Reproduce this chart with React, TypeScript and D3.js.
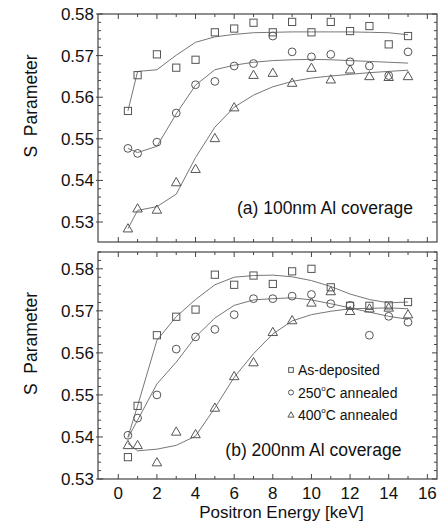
import React from 'react';
import * as d3 from 'd3';

// positron energies (keV)
const energies = [0.5, 1, 2, 3, 4, 5, 6, 7, 8, 9, 10, 11, 12, 13, 14, 15];

// (a) 100nm Al coverage
const aAsDep = [0.5567, 0.5653, 0.5703, 0.5671, 0.569, 0.5756, 0.5765, 0.5779, 0.5756, 0.5781, 0.5756, 0.5781, 0.5759, 0.5771, 0.5727, 0.5747];
const a250 = [0.5477, 0.5465, 0.5492, 0.5562, 0.563, 0.5638, 0.5675, 0.5681, 0.5747, 0.5709, 0.5697, 0.5703, 0.5685, 0.5675, 0.5652, 0.5709];
const a400 = [0.5284, 0.5332, 0.5329, 0.5395, 0.5427, 0.5501, 0.5575, 0.5653, 0.5658, 0.5634, 0.567, 0.5642, 0.5666, 0.565, 0.5648, 0.565];
const aAsDepFit = [0.5567, 0.5662, 0.5666, 0.5701, 0.5732, 0.5745, 0.5751, 0.5755, 0.5756, 0.5757, 0.5757, 0.5757, 0.5757, 0.5756, 0.5755, 0.575];
const a250Fit = [0.5477, 0.5467, 0.5482, 0.556, 0.5629, 0.5666, 0.5677, 0.5684, 0.5688, 0.569, 0.5691, 0.569, 0.5688, 0.5686, 0.5684, 0.5682];
const a400Fit = [0.5284, 0.5328, 0.5337, 0.5367, 0.5455, 0.5528, 0.5576, 0.5605, 0.5625, 0.5638, 0.5646, 0.5651, 0.5655, 0.5659, 0.5662, 0.5665];

// (b) 200nm Al coverage
const bAsDep = [0.5352, 0.5474, 0.5642, 0.5686, 0.5703, 0.5786, 0.5762, 0.5784, 0.5764, 0.5794, 0.58, 0.5756, 0.5712, 0.5712, 0.5713, 0.5721];
const b250 = [0.5404, 0.5445, 0.55, 0.5609, 0.5638, 0.5656, 0.5691, 0.5729, 0.5729, 0.5735, 0.5739, 0.5717, 0.5713, 0.5642, 0.5687, 0.5673];
const b400 = [0.538, 0.538, 0.5339, 0.5412, 0.5406, 0.5469, 0.5544, 0.5577, 0.5649, 0.5677, 0.5719, 0.5746, 0.5699, 0.5705, 0.5707, 0.5691];
const bAsDepFit = [0.54, 0.5474, 0.563, 0.5686, 0.5727, 0.5762, 0.578, 0.5784, 0.5785, 0.5781, 0.5772, 0.5758, 0.574, 0.5727, 0.5719, 0.5721];
const b250Fit = [0.5398, 0.544, 0.5526, 0.5578, 0.5638, 0.5683, 0.5713, 0.5726, 0.5729, 0.5731, 0.5726, 0.5717, 0.5707, 0.5697, 0.5687, 0.568];
const b400Fit = [0.5385, 0.5367, 0.5371, 0.538, 0.5402, 0.5469, 0.5542, 0.5598, 0.5645, 0.5676, 0.5691, 0.5699, 0.5705, 0.5706, 0.5707, 0.5705];

const xTickLabels = [0, 2, 4, 6, 8, 10, 12, 14, 16];
const yTickLabels = [0.53, 0.54, 0.55, 0.56, 0.57, 0.58];

const FONT = 'Liberation Sans, Arial, Helvetica, sans-serif';
const MARK = '#555';
const LINE = '#777';
const AXIS = '#444';

const x = d3.scaleLinear().domain([-1.05, 16.5]).range([98, 437]);

type Shape = 'square' | 'circle' | 'triangle';

const Marker = ({ shape, cx, cy, s = 1 }: { shape: Shape; cx: number; cy: number; s?: number }) => {
  if (shape === 'square') {
    const h = 3.6 * s;
    return <rect x={cx - h} y={cy - h} width={2 * h} height={2 * h} fill="none" stroke={MARK} />;
  }
  if (shape === 'circle') {
    return <circle cx={cx} cy={cy} r={3.9 * s} fill="none" stroke={MARK} />;
  }
  const r = 5 * s;
  const pts = [
    [cx, cy - r],
    [cx + r * 0.95, cy + r * 0.65],
    [cx - r * 0.95, cy + r * 0.65],
  ];
  return <polygon points={pts.map(p => p.join(',')).join(' ')} fill="none" stroke={MARK} />;
};

const Panel = ({
  y,
  series,
  label,
  labelX,
  labelY,
  legend,
}: {
  y: d3.ScaleLinear<number, number>;
  series: { shape: Shape; values: number[]; fit: number[] }[];
  label: string;
  labelX: number;
  labelY: number;
  legend?: boolean;
}) => {
  const [x0, x1] = x.range();
  const [yb, yt] = y.range();
  const line = d3
    .line<number>()
    .x((_, i) => x(energies[i]))
    .y(d => y(d));

  const xMinor = d3.range(0, 17, 1);
  const yMinor = d3.range(0.53, 0.5841, 0.002).filter(v => v >= y.domain()[0] - 1e-9 && v <= y.domain()[1] + 1e-9);
  const isMajorY = (v: number) => Math.abs(v * 100 - Math.round(v * 100)) < 1e-6;
  const yLab = (yb + yt) / 2 - 22;

  return (
    <g>
      {series.map((s, k) => (
        <path key={'f' + k} d={line(s.fit) || ''} fill="none" stroke={LINE} strokeWidth={1} />
      ))}
      {series.map((s, k) =>
        s.values.map((v, i) => <Marker key={k + '-' + i} shape={s.shape} cx={x(energies[i])} cy={y(v)} />)
      )}
      <rect x={x0} y={yt} width={x1 - x0} height={yb - yt} fill="none" stroke={AXIS} strokeWidth={1.2} />
      {xMinor.map(t => {
        const len = t % 2 === 0 ? 5 : 3;
        return (
          <g key={'xt' + t} stroke={AXIS}>
            <line x1={x(t)} x2={x(t)} y1={yb} y2={yb - len} />
            <line x1={x(t)} x2={x(t)} y1={yt} y2={yt + len} />
          </g>
        );
      })}
      {yMinor.map(v => {
        const len = isMajorY(v) ? 5 : 3;
        return (
          <g key={'yt' + v} stroke={AXIS}>
            <line x1={x0 - (isMajorY(v) ? 2 : 0)} x2={x0 + len} y1={y(v)} y2={y(v)} />
            <line x1={x1} x2={x1 - len} y1={y(v)} y2={y(v)} />
          </g>
        );
      })}
      {yTickLabels.map(v => (
        <text key={'yl' + v} x={x0 - 4} y={y(v) + 6} textAnchor="end" fontSize={17} fontFamily={FONT} fill="#111">
          {v.toFixed(2)}
        </text>
      ))}
      <text
        transform={`translate(37,${yLab}) rotate(-90)`}
        textAnchor="middle"
        fontSize={17.5}
        fontFamily={FONT}
        fill="#111"
        style={{ whiteSpace: 'pre' }}
      >
        {'S  Parameter'}
      </text>
      <text x={x(labelX)} y={labelY} textAnchor="middle" fontSize={17.5} fontFamily={FONT} fill="#111">
        {label}
      </text>
      {legend &&
        series.map((s, k) => {
          const ly = 370 + k * 22.5;
          return (
            <g key={'lg' + k}>
              <Marker shape={s.shape} cx={291} cy={ly} s={0.65} />
              <text x={298} y={ly + 5} fontSize={14} fontFamily={FONT} fill="#111">
                {k === 0 ? (
                  'As-deposited'
                ) : (
                  <>
                    {k === 1 ? '250' : '400'}
                    <tspan fontSize={8} dy={-7}>o</tspan>
                    <tspan dy={7}>C annealed</tspan>
                  </>
                )}
              </text>
            </g>
          );
        })}
    </g>
  );
};

export default function App() {
  const yTop = d3.scaleLinear().domain([0.5252, 0.58]).range([242, 14]);
  const yBot = d3.scaleLinear().domain([0.53, 0.584]).range([479, 252]);

  return (
    <svg width={442} height={527} style={{ position: 'absolute', left: 0, top: 0, background: '#fff' }}>
      <rect width={442} height={527} fill="#fff" />
      <Panel
        y={yTop}
        label="(a) 100nm Al coverage"
        labelX={10.7}
        labelY={214}
        series={[
          { shape: 'square', values: aAsDep, fit: aAsDepFit },
          { shape: 'circle', values: a250, fit: a250Fit },
          { shape: 'triangle', values: a400, fit: a400Fit },
        ]}
      />
      <Panel
        y={yBot}
        label="(b) 200nm Al coverage"
        labelX={10.1}
        labelY={456}
        legend
        series={[
          { shape: 'square', values: bAsDep, fit: bAsDepFit },
          { shape: 'circle', values: b250, fit: b250Fit },
          { shape: 'triangle', values: b400, fit: b400Fit },
        ]}
      />
      {xTickLabels.map(t => (
        <text key={'xl' + t} x={x(t)} y={499} textAnchor="middle" fontSize={17} fontFamily={FONT} fill="#111">
          {t}
        </text>
      ))}
      <text x={x(8.45)} y={518} textAnchor="middle" fontSize={17} fontFamily={FONT} fill="#111">
        Positron Energy [keV]
      </text>
    </svg>
  );
}
